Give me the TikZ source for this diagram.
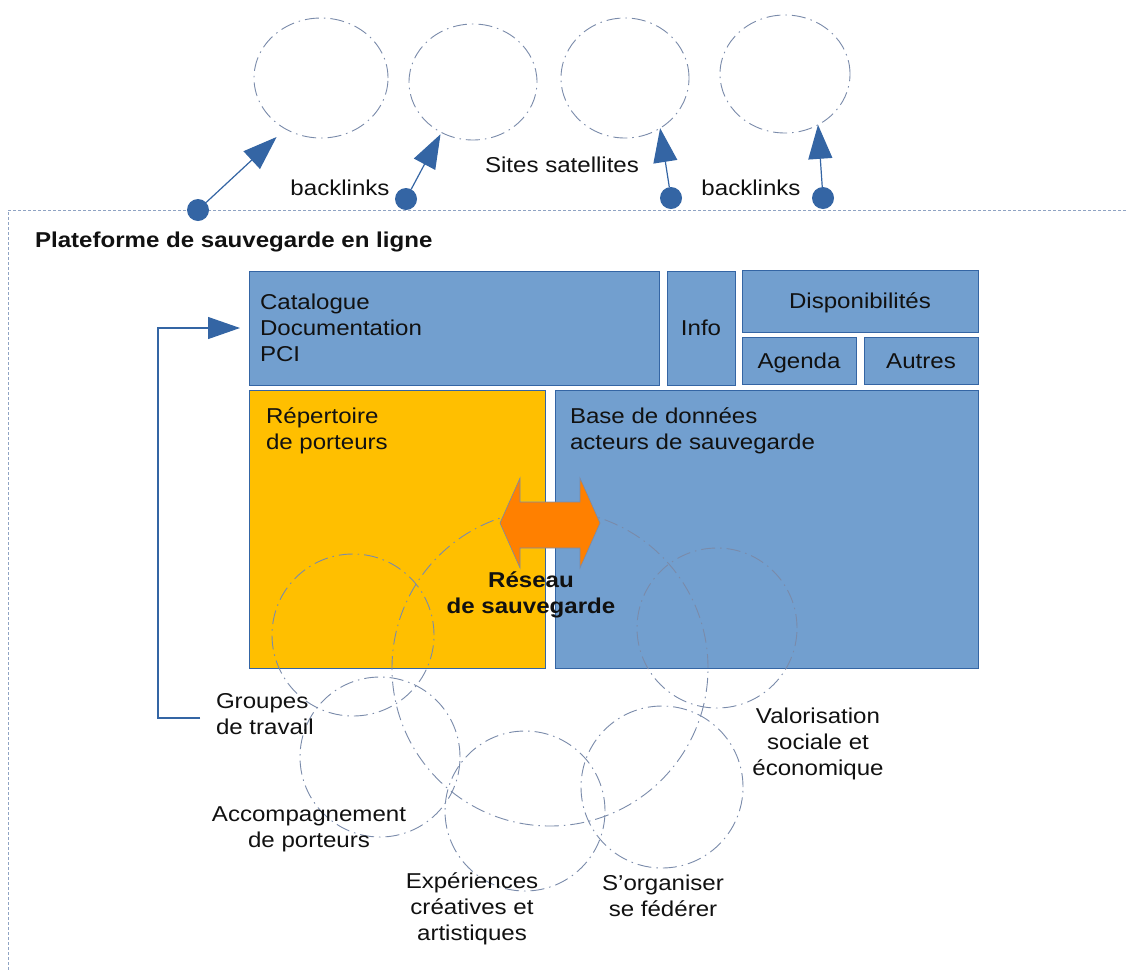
\documentclass[tikz,border=0pt]{standalone}
\usepackage{fontspec}
\setmainfont{Liberation Sans}[FakeStretch=1.12]
\usetikzlibrary{arrows.meta,shapes.geometric}
\definecolor{boxblue}{HTML}{729FCF}
\definecolor{edgeblue}{HTML}{3465A4}
\definecolor{gold}{HTML}{FFBF00}
\definecolor{arrorange}{HTML}{FF8000}
\definecolor{ddgray}{HTML}{7A8BAA}
\definecolor{framecol}{HTML}{8FA3C3}
\definecolor{ink}{HTML}{111111}
\begin{document}
\begin{tikzpicture}[x=1pt,y=-1pt,
  every node/.style={font=\fontsize{21.5}{26}\selectfont, text=ink, inner sep=0pt, outer sep=0pt},
  boldtxt/.style={font=\fontsize{21.5}{26}\selectfont\bfseries},
  bbox/.style={draw=edgeblue, line width=0.6pt, fill=boxblue, anchor=north west, text height=15.5pt, text depth=0pt},
  gbox/.style={bbox, fill=gold},
  sat/.style={ellipse, draw=ddgray, line width=0.9pt, dash pattern=on 14pt off 5pt on 1.5pt off 5pt},
  net/.style={circle, draw=ddgray, line width=0.9pt, dash pattern=on 14pt off 5pt on 1.5pt off 5pt},
  dotnode/.style={circle, fill=edgeblue, minimum size=22pt},
  satlink/.style={draw=edgeblue, line width=1.2pt, -{Triangle[length=34pt,width=24pt]}},
  backlink/.style={draw=edgeblue, line width=1.2pt, -{Triangle[length=32pt,width=22pt]}},
]
\useasboundingbox (0,0) rectangle (1126,970);
\fill[white] (0,0) rectangle (1126,970);

% platform frame
\draw[framecol, line width=1pt, dash pattern=on 3pt off 2pt] (1126,210) -- (8,210) -- (8,970);

% satellite sites
\node[sat, minimum width=134pt, minimum height=120pt] (s1) at (321,78) {};
\node[sat, minimum width=128pt, minimum height=116pt] (s2) at (473,82) {};
\node[sat, minimum width=128pt, minimum height=120pt] (s3) at (625,78) {};
\node[sat, minimum width=130pt, minimum height=118pt] (s4) at (785,74) {};

\node[dotnode] (d1) at (198,210) {};
\node[dotnode] (d2) at (406,199) {};
\node[dotnode] (d3) at (671,198) {};
\node[dotnode] (d4) at (823,198) {};

\draw[satlink, shorten >=12pt] (d1) -- (s1.235);
\draw[satlink, shorten >=2pt] (d2) -- (s2.238);
\draw[satlink] (d3) -- (s3.305);
\draw[satlink] (d4) -- (s4.303);

\node[anchor=base] (bl1) at (340,195) {backlinks};
\node[anchor=base] (sites) at (562,172) {Sites satellites};
\node[anchor=base] (bl2) at (751,195) {backlinks};

\node[boldtxt, anchor=base west] (title) at (35,247) {Plateforme de sauvegarde en ligne};

% boxes
\node[bbox, minimum width=410pt, minimum height=114pt] (cat) at (249,271) {};
\node[bbox, minimum width=68pt, minimum height=114pt] (info) at (667,271) {Info};
\node[bbox, minimum width=236pt, minimum height=62pt] (dispo) at (742,270) {Disponibilités};
\node[bbox, minimum width=114pt, minimum height=47pt] (agenda) at (742,337) {Agenda};
\node[bbox, minimum width=114pt, minimum height=47pt] (autres) at (864,337) {Autres};
\node[gbox, minimum width=296pt, minimum height=278pt] (rep) at (249,390) {};
\node[bbox, minimum width=423pt, minimum height=278pt] (base) at (555,390) {};

\node[anchor=west, align=left] (catt) at (260,328.2) {Catalogue\\Documentation\\PCI};
\node[anchor=west, align=left] (rept) at (266,430.9) {Répertoire\\de porteurs};
\node[anchor=west, align=left] (baset) at (570,430.9) {Base de données\\acteurs de sauvegarde};

% network circles
\node[net, minimum size=162pt] (grp) at (353,635) {};
\node[net, minimum size=316pt] (res) at (550,668) {};
\node[net, minimum size=160pt] (val) at (717,628) {};
\node[net, minimum size=160pt] (acc) at (380,757) {};
\node[net, minimum size=160pt] (exp) at (525,811) {};
\node[net, minimum size=162pt] (org) at (662,787) {};

% orange double arrow
\draw[draw=ddgray, line width=0.6pt, fill=arrorange, line join=miter]
  (500,523) -- (520,478) -- (520,502) -- (580,502) -- (580,478) -- (600,523)
  -- (580,568) -- (580,548) -- (520,548) -- (520,568) -- cycle;

\node[boldtxt, align=center] (reseau) at (531,594.4) {Réseau\\de sauvegarde};

% labels
\node[anchor=west, align=left] (grpt) at (216,713.7) {Groupes\\de travail};
\node[align=center] (acct) at (309,829.4) {Accompagnement\\de porteurs};
\node[align=center] (expt) at (472,908.9) {Expériences\\créatives et\\artistiques};
\node[align=center] (orgt) at (663,895.6) {S’organiser\\se fédérer};
\node[align=center] (valt) at (818,744.4) {Valorisation\\sociale et\\économique};

% link from working groups to catalogue
\coordinate (gstart) at (200,718);
\draw[backlink] (gstart) -- ++(-42,0) |- ([xshift=-9pt]cat.west);
\end{tikzpicture}
\end{document}
